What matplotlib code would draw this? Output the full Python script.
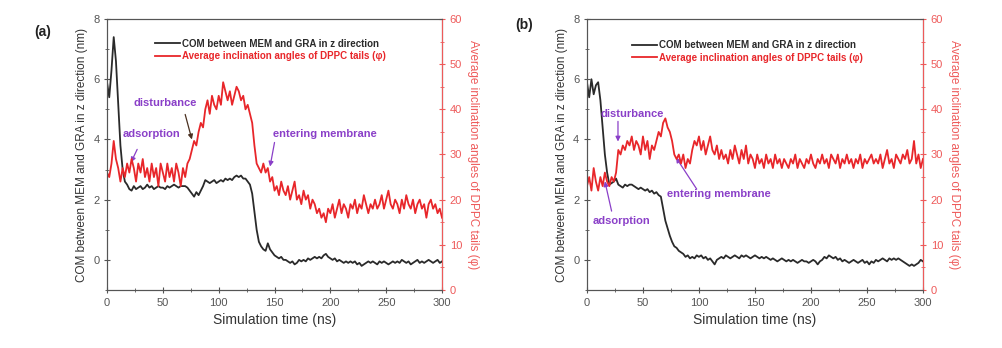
import numpy as np
import matplotlib.pyplot as plt

plt.rcParams['font.family'] = ['Liberation Sans', 'DejaVu Sans']

# simulation time (ns), one sample every 2 ns
time_ns = np.arange(0, 301, 2)

# (a) COM distance between membrane and graphene along z (nm)
com_a = [
    5.9, 5.4, 6.3, 7.4, 6.6, 5.2, 3.8, 3.0, 2.6, 2.5,
    2.35, 2.3, 2.45, 2.35, 2.4, 2.45, 2.35, 2.4, 2.5, 2.4,
    2.45, 2.35, 2.4, 2.45, 2.4, 2.4, 2.35, 2.45, 2.4, 2.45,
    2.5, 2.45, 2.4, 2.45, 2.45, 2.45, 2.4, 2.3, 2.2, 2.1,
    2.25, 2.15, 2.3, 2.45, 2.65, 2.6, 2.55, 2.6, 2.65, 2.55,
    2.6, 2.65, 2.6, 2.7, 2.65, 2.7, 2.65, 2.75, 2.8, 2.75,
    2.8, 2.7, 2.7, 2.6, 2.5, 2.2, 1.6, 1.0, 0.6, 0.45,
    0.35, 0.3, 0.55, 0.35, 0.25, 0.15, 0.1, 0.05, 0.1, 0.0,
    0.0, -0.05, -0.1, -0.05, -0.15, -0.1, 0.0, -0.05, 0.0, -0.05,
    0.05, 0.0, 0.05, 0.1, 0.05, 0.1, 0.05, 0.15, 0.2, 0.1,
    0.05, 0.0, 0.05, -0.05, 0.0, -0.05, -0.1, -0.05, -0.1, -0.05,
    -0.1, -0.05, -0.15, -0.1, -0.2, -0.15, -0.1, -0.05, -0.1, -0.05,
    -0.1, -0.15, -0.05, -0.1, -0.05, -0.1, -0.15, -0.1, -0.05, -0.1,
    -0.05, -0.1, 0.0, -0.05, -0.1, -0.05, -0.15, -0.1, -0.05, 0.0,
    -0.1, -0.05, -0.1, -0.05, 0.0, -0.05, -0.1, -0.05, 0.0, -0.1,
    -0.05,
]

# (a) average inclination angle of DPPC tails (deg)
phi_a = [
    26, 25, 28, 33, 29, 27, 24, 27, 25, 28,
    26, 29, 27, 24, 28, 26, 29, 25, 27, 24,
    28, 25, 27, 23, 28, 26, 24, 28, 25, 27,
    24, 28, 26, 23, 27, 25, 28, 29, 31, 33,
    32, 35, 37, 36, 40, 42, 39, 43, 41, 40,
    43, 41, 46, 44, 42, 44, 41, 43, 45, 44,
    42, 43, 40, 41, 39, 37, 32, 28, 27, 26,
    28, 26, 27, 24, 25, 22, 23, 21, 24, 22,
    21, 23, 20, 22, 24, 20, 21, 19, 22, 20,
    21, 18, 20, 19, 17, 18, 16, 17, 15, 18,
    17, 19, 16, 18, 20, 17, 19, 18, 16, 19,
    18, 20, 17, 19, 18, 21, 19, 17, 19, 18,
    20, 18, 19, 21, 18, 20, 22, 19, 18, 20,
    19, 17, 20, 18, 21, 19, 18, 20, 17, 19,
    20, 18, 19, 16, 19, 20, 18, 19, 17, 18,
    16,
]

# (b) COM distance (nm)
com_b = [
    5.9, 5.4, 6.0, 5.5, 5.8, 5.9, 5.3, 4.4, 3.5, 2.9,
    2.5, 2.55, 2.6, 2.7, 2.5, 2.45, 2.4, 2.5, 2.45, 2.5,
    2.5, 2.45, 2.4, 2.35, 2.4, 2.35, 2.3, 2.35, 2.25, 2.3,
    2.2, 2.25, 2.15, 2.1, 1.7, 1.3, 1.05, 0.8, 0.6, 0.45,
    0.4, 0.3, 0.25, 0.2, 0.1, 0.15, 0.05, 0.1, 0.05, 0.15,
    0.1, 0.15, 0.05, 0.1, 0.0, 0.05, -0.05, -0.15, 0.0, 0.05,
    0.1, 0.05, 0.15, 0.1, 0.05, 0.1, 0.15, 0.1, 0.05, 0.15,
    0.1, 0.15, 0.1, 0.05, 0.1, 0.15, 0.1, 0.05, 0.1, 0.05,
    0.1, 0.05, 0.0, 0.05, 0.0, -0.05, 0.0, 0.05, 0.0, -0.05,
    0.0, -0.05, 0.0, -0.05, -0.1, -0.05, 0.0, -0.05, -0.05, -0.1,
    -0.05, 0.0, -0.05, -0.15, -0.05, 0.0, 0.1, 0.05, 0.15, 0.1,
    0.05, 0.1, 0.0, 0.05, -0.05, 0.0, -0.05, -0.1, -0.05, 0.0,
    -0.05, -0.1, -0.05, 0.0, -0.1, -0.05, -0.15, -0.05, -0.1, 0.0,
    -0.05, 0.0, 0.05, 0.0, -0.05, 0.05, 0.0, 0.05, 0.0, 0.05,
    0.0, -0.05, -0.1, -0.15, -0.2, -0.15, -0.2, -0.15, -0.1, 0.0,
    -0.05,
]

# (b) average inclination angle (deg)
phi_b = [
    23, 25, 22, 27, 24, 22, 25, 23, 26, 24,
    23, 25, 24, 26, 31, 30, 32, 31, 33, 32,
    34, 31, 33, 32, 30, 34, 31, 33, 29, 32,
    31, 33, 35, 34, 37, 38, 36, 35, 33, 30,
    29, 30, 28, 30, 27, 29, 28, 31, 33, 32,
    34, 31, 33, 30, 32, 34, 31, 30, 32, 29,
    31, 29, 30, 28, 31, 29, 32, 30, 28, 31,
    29, 32, 28, 30, 29, 27, 30, 28, 29, 27,
    30, 28, 29, 27, 30, 28, 29, 27, 29, 28,
    27, 29, 28, 30, 27, 29, 28, 27, 29, 28,
    30, 28, 27, 29, 28, 30, 28, 29, 27, 30,
    29, 28, 30, 27, 29, 28, 30, 28, 29, 27,
    29, 28, 30, 27, 29, 28, 29, 30, 28, 29,
    28, 30, 27, 29, 31, 28, 29, 27, 30, 29,
    28, 30, 29, 31, 28, 29, 33, 28, 30, 27,
    29,
]

# event labels: text, label centre (ns, nm), arrow tail, arrow head, arrow colour
PURPLE = '#8a3fc8'
events_a = [
    ('disturbance', (52, 5.22), (70, 4.83), (76, 4.0), '#4a3020'),
    ('adsorption', (40, 4.17), (27, 3.67), (21.5, 3.24), PURPLE),
    ('entering membrane', (195, 4.17), (150, 3.9), (146, 3.1), PURPLE),
]
events_b = [
    ('disturbance', (40, 4.86), (27.7, 4.6), (27.7, 3.93), PURPLE),
    ('adsorption', (31, 1.29), (22, 1.62), (16, 2.61), PURPLE),
    ('entering membrane', (118, 2.18), (98, 2.35), (79.5, 3.4), PURPLE),
]

BLACK = '#2a2a2a'
RED = '#e8262a'
LRED = '#ee5a5a'
GREY = '#555555'

fig = plt.figure(figsize=(10.03, 3.48), dpi=100)


def panel(rect, com, phi, tag, tag_pos, events, leg_pos):
    ax = fig.add_axes(rect)
    ax2 = ax.twinx()
    l1, = ax.plot(time_ns, com, color=BLACK, lw=1.3)
    l2, = ax2.plot(time_ns, phi, color=RED, lw=1.3)
    ax.set_xlim(0, 300)
    ax.set_ylim(-1, 8)
    ax2.set_ylim(0, 60)
    ax.set_xticks(np.arange(0, 301, 50))
    ax.set_xticks(np.arange(0, 301, 25), minor=True)
    ax.set_yticks([0, 2, 4, 6, 8])
    ax.set_yticks(np.arange(-1, 8, 2), minor=True)
    ax2.set_yticks(np.arange(0, 61, 10))
    ax2.set_yticks(np.arange(5, 60, 10), minor=True)
    for a, col in [(ax, GREY), (ax2, LRED)]:
        a.tick_params(which='both', direction='inout', colors=col, labelsize=8)
        a.tick_params(which='major', length=4)
        a.tick_params(which='minor', length=2.5)
    for s in ['left', 'bottom', 'top']:
        ax.spines[s].set_color(GREY)
        ax2.spines[s].set_color(GREY)
    ax2.spines['right'].set_color(LRED)
    ax.set_xlabel('Simulation time (ns)', fontsize=10, color='#333333', labelpad=4)
    ax.set_ylabel('COM between MEM and GRA in z direction (nm)', fontsize=8.5,
                  color='#333333', labelpad=4)
    ax2.set_ylabel('Average inclination angles of DPPC tails (\u03c6)', fontsize=8.5,
                   color=LRED, rotation=270, labelpad=12)

    leg = ax.legend([l1, l2],
                    ['COM between MEM and GRA in z direction',
                     'Average inclination angles of DPPC tails (\u03c6)'],
                    loc='upper left', bbox_to_anchor=leg_pos, frameon=False,
                    prop={'size': 7, 'weight': 'bold'}, handlelength=2.6,
                    handletextpad=0.2, labelspacing=0.25, borderpad=0)
    leg.get_texts()[0].set_color(BLACK)
    leg.get_texts()[1].set_color(RED)

    for text, pos, tail, head, col in events:
        ax.annotate('', xy=head, xytext=tail,
                    arrowprops=dict(arrowstyle='-|>', color=col, lw=0.9,
                                    mutation_scale=7, shrinkA=0, shrinkB=0))
        ax.text(pos[0], pos[1], text, color=PURPLE, fontsize=8, fontweight='bold',
                ha='center', va='center', zorder=5)

    fig.text(tag_pos[0], tag_pos[1], tag, fontsize=10, fontweight='bold',
             ha='center', va='center', color='#222222')
    return ax


panel([0.1067, 0.1667, 0.334, 0.7787], com_a, phi_a, '(a)', (0.043, 0.908),
      events_a, (0.128, 0.945))
panel([0.5852, 0.1667, 0.335, 0.7787], com_b, phi_b, '(b)', (0.523, 0.928),
      events_b, (0.12, 0.94))

fig.savefig('out.png', dpi=100)
